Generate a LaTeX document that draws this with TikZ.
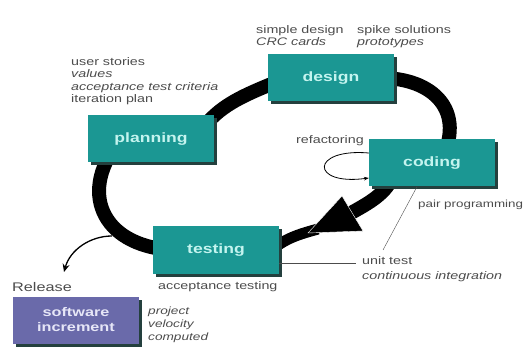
\documentclass[tikz,border=0pt]{standalone}
\usepackage{fontspec}
\setmainfont[FakeStretch=1.3]{Liberation Sans}
\usetikzlibrary{shadows,backgrounds,calc,arrows.meta}
\definecolor{boxteal}{HTML}{1B9793}
\definecolor{boxshade}{HTML}{24403E}
\definecolor{boxtext}{HTML}{C4F4EF}
\definecolor{relpurple}{HTML}{6A6AAA}
\definecolor{reltext}{HTML}{E6E6F7}
\definecolor{labgray}{HTML}{4C4C4C}
\tikzset{
  phase/.style={rectangle, fill=boxteal, text=boxtext, minimum width=126pt, minimum height=47pt,
    font=\bfseries\fontsize{13.5}{16}\selectfont,
    drop shadow={shadow xshift=3pt, shadow yshift=-3pt, fill=boxshade, opacity=1}},
  lab/.style={text=labgray, align=left, inner sep=0pt, font=\fontsize{11}{12.5}\selectfont},
  band/.style={line width=14pt, draw=black},
  thinline/.style={draw=labgray, thin}
}
\begin{document}
\begin{tikzpicture}[x=1pt, y=-1pt]
\useasboundingbox (0,0) rectangle (529,352);
% phases of the cycle
\node[phase] (design) at (331,78) {design};
\node[phase] (planning) at (151,139) {planning};
\node[phase] (coding) at (432,163) {coding};
\node[phase] (testing) at (216,250) {testing};
\node[phase, fill=relpurple, text=reltext, align=center, font=\bfseries\fontsize{12.5}{15}\selectfont] (increment) at (76,320) {software\\increment};
% labels
\node[lab, anchor=north west] (planlab) at (71,57) {user stories\\\textit{values}\\\textit{acceptance test criteria}\\iteration plan};
\node[lab, anchor=north west] (simplelab) at (256,25) {simple design\\\textit{CRC cards}};
\node[lab, anchor=north west] (spikelab) at (357,25) {spike solutions\\\textit{prototypes}};
\node[lab, anchor=west] (refaclab) at (296,141) {refactoring};
\node[lab, anchor=west, font=\fontsize{10.3}{12}\selectfont] (pairlab) at (418,205) {pair programming};
\node[lab, anchor=north west, font=\fontsize{11}{15}\selectfont] (unittest) at (362,256) {unit test\\\textit{continuous integration}};
\node[lab, anchor=west] (acclab) at (158,287) {acceptance testing};
\node[lab, anchor=west, font=\fontsize{12.5}{14}\selectfont] (release) at (12,287) {Release};
\node[lab, anchor=north west, font=\itshape\fontsize{10.5}{13}\selectfont] (velolab) at (148,307) {project\\velocity\\computed};
% the loop
\begin{pgfonlayer}{background}
\draw[band] ([xshift=45pt]planning.center) .. controls (215,105) and (245,95) .. ([xshift=-45pt]design.center);
\draw[band] ([xshift=50pt]design.center) .. controls (432,78) and (468,110) .. ([xshift=8pt]coding.center);
\draw[band] ([xshift=-40pt,yshift=-15pt]coding.center) .. controls (385,195) and (365,205) .. (351,213);
\draw[line width=11pt] (318,229) .. controls (300,234) and (285,238) .. ([xshift=-10pt,yshift=-2pt]testing.east);
\draw[band] ([xshift=-45pt]testing.center) .. controls (100,245) and (78,190) .. ([xshift=-30pt]planning.center);
\end{pgfonlayer}
\fill[black, draw=white, thin] (308,233) -- (342,196) -- (363,231) -- cycle;
\draw[-{Stealth[length=8pt,width=7pt]}, line width=1.3pt] (112,236) .. controls (90,236) and (70,250) .. (64,272);
% refactoring loop
\draw[-{Stealth[length=5pt]}, thick] ([yshift=10pt]coding.west) .. controls (310,148) and (310,186) .. ([yshift=-15pt]coding.west);
% pointers to the labels
\coordinate (tline) at ([yshift=-13pt]testing.east);
\draw[thinline] ([xshift=-15pt]coding.south) -- ([xshift=21pt,yshift=6pt]unittest.north west);
\draw[thinline] (tline) -- ([xshift=-6pt]tline -| unittest.west);
\end{tikzpicture}
\end{document}
